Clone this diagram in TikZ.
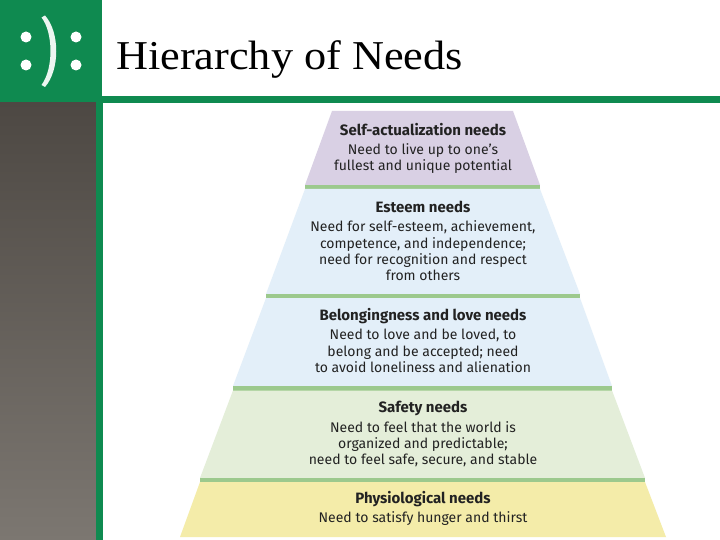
\documentclass[tikz,border=0pt]{standalone}
\usepackage{fontspec}
\setmainfont{Liberation Serif}
\newfontfamily\titlefont[FakeStretch=1.08]{Liberation Serif}
\newfontfamily\pyr{Fira Sans}
\definecolor{hgreen}{HTML}{0F8A50}
\definecolor{ptop}{HTML}{4D4843}
\definecolor{pbot}{HTML}{7C7771}
\definecolor{lvpurple}{HTML}{D9D0E4}
\definecolor{lvblue}{HTML}{E3EFF9}
\definecolor{lvgreen}{HTML}{E4EED9}
\definecolor{lvyellow}{HTML}{F4ECA9}
\definecolor{band}{HTML}{9CC98D}
\definecolor{txt}{HTML}{222222}
\tikzset{
  head/.style={font=\pyr\fontsize{15}{16}\selectfont, text=txt, inner sep=0pt, anchor=base},
  body/.style={font=\pyr\fontsize{14}{16.5}\selectfont, text=txt, inner sep=0pt, anchor=base},
  dot/.style={fill=white, circle, inner sep=0pt, minimum size=11pt}
}
\begin{document}
\begin{tikzpicture}[x=1pt,y=-1pt]
\useasboundingbox (0,0) rectangle (720,540);
\fill[white] (0,0) rectangle (720,540);
% frame
\shade[top color=ptop,bottom color=pbot] (0,102) rectangle (96,540);
\fill[hgreen] (0,0) rectangle (102,102);
\fill[hgreen] (102,96) rectangle (720,103);
\fill[hgreen] (96,102) rectangle (103,540);
% smile
\node[dot] (d1) at (26,37) {};
\node[dot] (d2) at (26,65) {};
\node[dot] (d3) at (76,37) {};
\node[dot] (d4) at (76,65) {};
\fill[white!92!hgreen] (41.5,17.5) .. controls (53,32) and (54,68) .. (41.5,85) -- (45,87) .. controls (60,70) and (60,32) .. (45,15.5) -- cycle;
\node[font=\titlefont\fontsize{41}{43}\selectfont, anchor=base west, inner sep=0pt] (title) at (116,70) {Hierarchy of Needs};
% pyramid
\fill[lvpurple] (332,111) -- (513,111) -- (540,185) -- (305,185) -- cycle;
\fill[band] (305,185) rectangle (540,189);
\fill[lvblue] (305,189) -- (540,189) -- (580,294) -- (266,294) -- cycle;
\fill[band] (266,294) rectangle (580,298);
\fill[lvblue] (266,298) -- (580,298) -- (612,386) -- (233,386) -- cycle;
\fill[band] (233,386) rectangle (612,390.5);
\fill[lvgreen] (233,390.5) -- (612,390.5) -- (645,478) -- (200,478) -- cycle;
\fill[band] (200,478) rectangle (645,482);
\fill[lvyellow] (200,482) -- (645,482) -- (666,537) -- (180,537) -- cycle;
% labels
\node[head] (h1) at (423,136) {\textbf{Self-actualization needs}};
\node[body] (b1a) at (423,155) {Need to live up to one’s};
\node[body] (b1b) at (423,171) {fullest and unique potential};
\node[head] (h2) at (423,212) {\textbf{Esteem needs}};
\node[body] (b2a) at (423,231) {Need for self-esteem, achievement,};
\node[body] (b2b) at (423,248) {competence, and independence;};
\node[body] (b2c) at (423,264) {need for recognition and respect};
\node[body] (b2d) at (423,280) {from others};
\node[head] (h3) at (423,320) {\textbf{Belongingness and love needs}};
\node[body] (b3a) at (423,339) {Need to love and be loved, to};
\node[body] (b3b) at (423,356) {belong and be accepted; need};
\node[body] (b3c) at (423,372) {to avoid loneliness and alienation};
\node[head] (h4) at (423,412) {\textbf{Safety needs}};
\node[body] (b4a) at (423,432) {Need to feel that the world is};
\node[body] (b4b) at (423,448) {organized and predictable;};
\node[body] (b4c) at (423,464) {need to feel safe, secure, and stable};
\node[head] (h5) at (423,503) {\textbf{Physiological needs}};
\node[body] (b5a) at (423,522) {Need to satisfy hunger and thirst};
\end{tikzpicture}
\end{document}
